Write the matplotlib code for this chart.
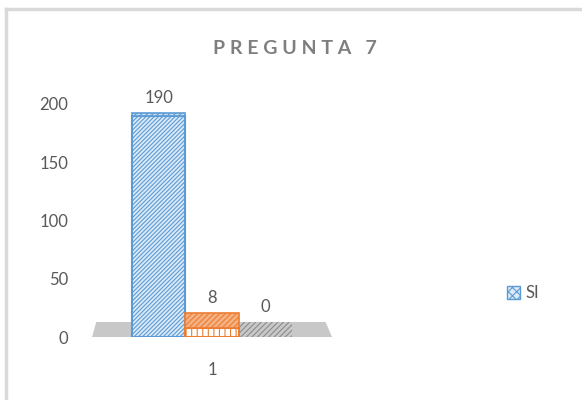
import matplotlib.pyplot as plt
from matplotlib.patches import Polygon
from matplotlib.lines import Line2D

# data
categories = ['1']
values = [190, 8, 0]
series_label = 'SI'
yticks = [0, 50, 100, 150, 200]

edge_colors = ['#5b9bd5', '#ed7d31', '#8c8c8c']
face_colors = ['#dceaf7', '#ffffff', '#d9d9d9']
top_colors = ['#c9dcf0', '#f4b183', '#c8c8c8']
text_gray = '#595959'

plt.rcParams['font.family'] = ['Lato', 'DejaVu Sans']
plt.rcParams['hatch.linewidth'] = 0.8

fig = plt.figure(figsize=(5.82, 4.0), dpi=100)
W, H = 582, 400

# axes placed so that 0 -> y=337px, 200 -> y=104px
ax = fig.add_axes([92 / W, (H - 337) / H, 240 / W, 233 / H])
ax.set_xlim(-1.25, 3.25)
ax.set_ylim(0, 200)
px = 200 / 233  # data units per pixel in y

# floor
floor = Polygon([(-1.25, 0), (3.25, 0), (3.13, 15 * px), (-1.17, 15 * px)],
                closed=True, facecolor='#c8c8c8', edgecolor='none', zorder=1)
ax.add_patch(floor)

xs = [0, 1, 2]
for x, v, ec, fc, tc in zip(xs, values, edge_colors, face_colors, top_colors):
    depth = (15 - 12 * v / 190) * px
    if v > 0:
        hatch = '////////' if v > 50 else '|||'
        ax.bar(x, v, width=1, color=fc, edgecolor=ec, hatch=hatch,
               linewidth=1.5, zorder=3)
    top = Polygon([(x - 0.5, v), (x + 0.5, v), (x + 0.5, v + depth), (x - 0.5, v + depth)],
                  closed=True, facecolor=tc, edgecolor=ec,
                  hatch='//////', linewidth=1.2 if v > 0 else 0,
                  zorder=2 if v == 0 else 3)
    ax.add_patch(top)
    ax.text(x, v + depth + 6, str(v), ha='center', va='bottom',
            fontsize=12, color=text_gray)

ax.set_yticks(yticks)
ax.set_yticklabels([str(t) for t in yticks], fontsize=12, color=text_gray)
ax.set_xticks([1])
ax.set_xticklabels(categories, fontsize=12, color=text_gray)
ax.tick_params(length=0, axis='y', pad=17)
ax.tick_params(length=0, axis='x', pad=18)
for s in ax.spines.values():
    s.set_visible(False)
ax.patch.set_alpha(0)

fig.text(295 / W, 1 - 48 / H, 'P R E G U N T A   7', ha='center', va='center',
         fontsize=14, fontweight='bold', color='#7f7f7f')

# legend
handle = plt.Rectangle((0, 0), 1, 1, facecolor=face_colors[0], edgecolor=edge_colors[0],
                       hatch='xxxx', linewidth=1)
fig.legend([handle], [series_label], loc='center left', bbox_to_anchor=(492 / W, 1 - 293 / H),
           frameon=False, fontsize=12, handlelength=0.8, handleheight=0.8,
           handletextpad=0.3, labelcolor=text_gray)

# chart border
fig.add_artist(Line2D([6 / W, 6 / W], [0, 1 - 9 / H], color='#d9d9d9', lw=2.5))
fig.add_artist(Line2D([6 / W, 1], [1 - 9 / H, 1 - 9 / H], color='#d9d9d9', lw=2.5))

fig.savefig('out.png', dpi=100)
